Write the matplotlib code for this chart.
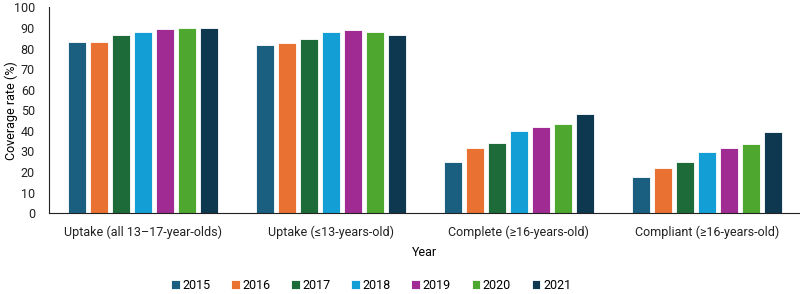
import numpy as np
import matplotlib.pyplot as plt

# ------------------------------------------------
#  Data
# ------------------------------------------------
categories = [
    "Uptake (all 13\u201317-year-olds)",
    "Uptake (\u226413-years-old)",
    "Complete (\u226516-years-old)",
    "Compliant (\u226516-years-old)",
]
years = ["2015", "2016", "2017", "2018", "2019", "2020", "2021"]

rates = {
    "2015": [83.4, 81.8, 24.7, 17.6],
    "2016": [83.4, 82.7, 31.5, 21.8],
    "2017": [86.6, 84.7, 34.2, 24.7],
    "2018": [88.2, 88.2, 39.8, 29.8],
    "2019": [89.7, 88.9, 41.9, 31.5],
    "2020": [90.0, 88.2, 43.4, 33.4],
    "2021": [90.0, 86.5, 48.2, 39.2],
}

COLORS = {
    "2015": "#1a5e80",
    "2016": "#e97132",
    "2017": "#1d6b38",
    "2018": "#139fd6",
    "2019": "#a02b93",
    "2020": "#4ea72e",
    "2021": "#0e384f",
}

plt.rcParams["font.family"] = ["Roboto", "DejaVu Sans"]
plt.rcParams["font.size"] = 9

# ------------------------------------------------
#  Plot
# ------------------------------------------------
fig = plt.figure(figsize=(8, 2.94), dpi=100)
ax = fig.add_axes([0.061, 0.275, 0.94, 0.70])

x = np.arange(len(categories))
step = 0.117
width = 0.094

for i, yr in enumerate(years):
    offs = (i - 3) * step
    ax.bar(x + offs, rates[yr], width=width, color=COLORS[yr],
           edgecolor="white", linewidth=0.6, label=yr)

ax.set_xlim(-0.5, 3.5)
ax.set_ylim(0, 100)
ax.set_yticks(range(0, 101, 10))
ax.set_xticks(x)
ax.set_xticklabels(categories)
ax.tick_params(axis="both", length=0, colors="#222222")
ax.tick_params(axis="y", pad=10)
ax.tick_params(axis="x", pad=9)

for s in ["top", "right"]:
    ax.spines[s].set_visible(False)
ax.spines["left"].set_color("#222222")
ax.spines["bottom"].set_color("#222222")

ax.set_ylabel("Coverage rate (%)")
ax.yaxis.set_label_coords(-0.041, 0.5)
ax.set_xlabel("Year", labelpad=5)

ax.legend(loc="center", bbox_to_anchor=(0.464, 0.03),
          bbox_transform=fig.transFigure, ncol=7, frameon=False,
          handlelength=0.7, handleheight=0.7, handletextpad=0.2,
          columnspacing=1.65)

fig.savefig("out.png", dpi=100)
